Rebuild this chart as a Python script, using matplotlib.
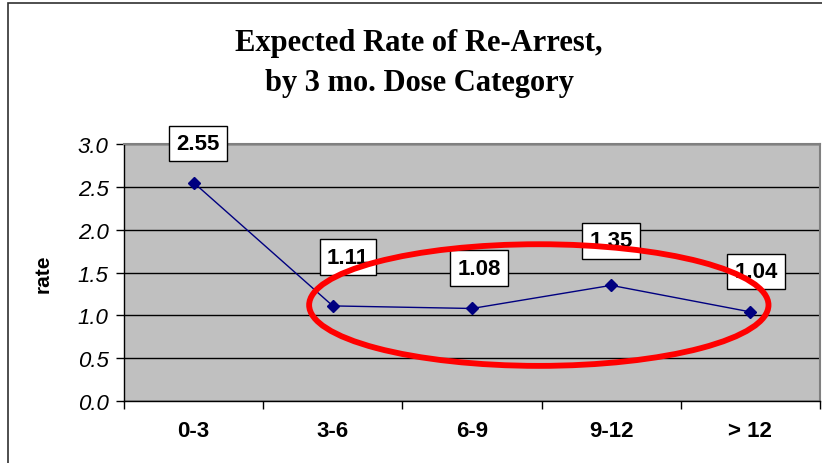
import numpy as np
import matplotlib
matplotlib.use("Agg")
import matplotlib.pyplot as plt
from matplotlib.patches import Ellipse, Rectangle

# Datos del grafico
categorias = ["0-3", "3-6", "6-9", "9-12", "> 12"]
tasas = [2.55, 1.11, 1.08, 1.35, 1.04]
etiquetas = ["2.55", "1.11", "1.08", "1.35", "1.04"]
ticks_y = [0.0, 0.5, 1.0, 1.5, 2.0, 2.5, 3.0]

# desplazamiento de las etiquetas (en puntos)
desp_x = [3, 11, 5, 0, 4]
desp_y = [28, 35, 29, 32, 29]

W, H = 822, 464
fig = plt.figure(figsize=(W / 100, H / 100), dpi=100)
fig.patch.set_facecolor("white")

# Marco exterior del grafico
fig.patches.append(Rectangle((8 / W, -0.1), 1.2, 1.1 - 4 / H, transform=fig.transFigure,
                             fill=False, edgecolor="#303030", linewidth=1.2))

ax = fig.add_axes([124 / W, 1 - 402 / H, (820 - 124) / W, (402 - 145) / H])
ax.set_facecolor("#c0c0c0")

x = np.arange(len(categorias))
ax.plot(x, tasas, color="#000080", linewidth=1, marker="D", markersize=6,
        markerfacecolor="#000080", markeredgecolor="#000080", zorder=3)

for i in range(len(tasas)):
    ax.annotate(etiquetas[i], (x[i], tasas[i]), xytext=(desp_x[i], desp_y[i]),
                textcoords="offset points", ha="center", va="center",
                fontsize=16, fontweight="bold", family="Liberation Sans",
                bbox=dict(boxstyle="square,pad=0.33", facecolor="white",
                          edgecolor="black", linewidth=1), zorder=4)

# Elipse roja de resaltado
ax.add_patch(Ellipse((2.48, 1.12), 3.30, 1.42, fill=False, edgecolor="#ff0000",
                     linewidth=4.2, zorder=5))

ax.set_xlim(-0.5, len(categorias) - 0.5)
ax.set_ylim(0, 3.0)
ax.set_yticks(ticks_y)
ax.set_yticklabels(["%.1f" % t for t in ticks_y], fontsize=16, style="italic",
                   family="Liberation Sans")
ax.yaxis.grid(True, color="black", linewidth=1)
ax.set_axisbelow(True)

ax.set_xticks(np.arange(-0.5, len(categorias), 1.0))
ax.set_xticklabels([])
ax.set_xticks(x, minor=True)
ax.set_xticklabels(categorias, minor=True, fontsize=16, fontweight="bold",
                   family="Liberation Sans")
ax.tick_params(axis="x", which="minor", length=0, pad=14)
ax.tick_params(axis="x", which="major", length=6, width=1, direction="out")
ax.tick_params(axis="y", length=6, width=1, direction="out", pad=5)

for lado in ["top", "right"]:
    ax.spines[lado].set_color("#808080")
    ax.spines[lado].set_linewidth(1.5)
for lado in ["left", "bottom"]:
    ax.spines[lado].set_color("black")
    ax.spines[lado].set_linewidth(1)

ax.set_ylabel("rate", fontsize=15, fontweight="bold", family="Liberation Sans",
              labelpad=18)

fig.text(419 / W, 1 - 44 / H, "Expected Rate of Re-Arrest,", ha="center", va="center",
         fontsize=22, fontweight="bold", family="Liberation Serif")
fig.text(419 / W, 1 - 83 / H, "by 3 mo. Dose Category", ha="center", va="center",
         fontsize=22, fontweight="bold", family="Liberation Serif")

fig.savefig("out.png", dpi=100)
